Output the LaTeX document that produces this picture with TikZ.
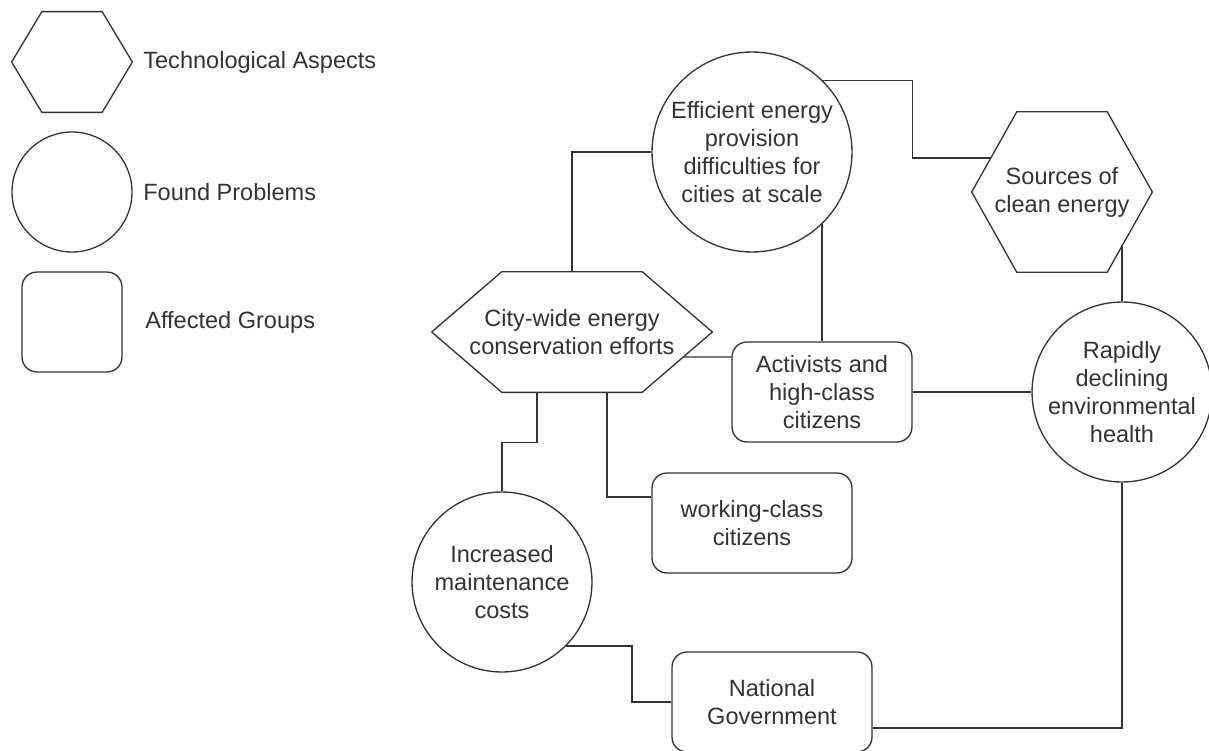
\documentclass[tikz,border=0pt]{standalone}
\usepackage{fontspec}
\setmainfont{Liberation Sans}
\usetikzlibrary{calc}
\definecolor{inkgray}{RGB}{51,51,51}
\tikzset{
  every node/.style={font=\fontsize{13.4pt}{16pt}\selectfont, text=inkgray, align=center},
  probcirc/.style={circle, draw=inkgray, line width=0.75pt, inner sep=-6pt, minimum size=#1},
  groupbox/.style={rectangle, rounded corners=0.3cm, draw=inkgray, line width=0.75pt, inner sep=0pt, minimum width=#1, minimum height=2cm},
  techhex/.style 2 args={inner sep=0pt, minimum width=#1, minimum height=#2},
  hexline/.style={draw=inkgray, line width=0.75pt, line join=miter},
  link/.style={draw=inkgray, line width=0.75pt},
  legendtext/.style={anchor=west, inner sep=0pt}
}
\begin{document}
\begin{tikzpicture}[x=0.02cm, y=-0.02cm]
 \useasboundingbox (0,0) rectangle (1209,750);
 % legend
 \node[techhex={2.4cm}{2cm}] (legtech) at (72,62) {};
 \node[probcirc=2.4cm] (legprob) at (72,192) {};
 \node[groupbox=2cm] (leggroup) at (72,322) {};
 \node[legendtext] (legtechtxt) at (143,62) {Technological Aspects};
 \node[legendtext] (legprobtxt) at (143,192) {Found Problems};
 \node[legendtext] (leggrouptxt) at (145,322) {Affected Groups};
 % diagram
 \node[probcirc=4cm] (eff) at (752,152) {Efficient energy\\provision\\difficulties for\\cities at scale};
 \node[techhex={3.6cm}{3.2cm}] (clean) at (1062,192) {Sources of\\clean energy};
 \node[techhex={5.6cm}{2.4cm}] (city) at (572,332) {City-wide energy\\conservation efforts};
 \node[groupbox=3.6cm] (act) at (822,392) {Activists and\\high-class\\citizens};
 \node[probcirc=3.6cm] (rapid) at (1122,392) {Rapidly\\declining\\environmental\\health};
 \node[groupbox=4cm] (work) at (752,523) {working-class\\citizens};
 \node[probcirc=3.6cm] (inc) at (502,582) {Increased\\maintenance\\costs};
 \node[groupbox=4cm] (gov) at (772,702) {National\\Government};
 \foreach \h in {legtech,city,clean}
  \draw[hexline] (\h.west) -- ($(\h.north west)!.25!(\h.north east)$) -- ($(\h.north west)!.75!(\h.north east)$) -- (\h.east) -- ($(\h.south west)!.75!(\h.south east)$) -- ($(\h.south west)!.25!(\h.south east)$) -- cycle;
 \coordinate (cityout) at (683,357);
 \coordinate (cleanin) at (991,158);
 \coordinate (cleanout) at (1122,245);
 % connectors
 \draw[link] (eff.west) -| (city.north);
 \draw[link] (eff.45) -- ++(89,0) |- (cleanin);
 \draw[link] (cleanout) -- (rapid.north);
 \draw[link] (act.north |- eff.-45) -- (act.north);
 \draw[link] (cityout) -- ([yshift=0.7cm]act.west);
 \draw[link] (act.east) -- (rapid.west);
 \draw[link] ([xshift=-0.7cm]city.south) -- ++(0,50) -| (inc.north);
 \draw[link] ([xshift=0.7cm]city.south) |- ([yshift=0.52cm]work.west);
 \draw[link] (inc.-45) -- ++(66,0) |- (gov.west);
 \draw[link] (rapid.south) |- ([yshift=-0.52cm]gov.east);
\end{tikzpicture}
\end{document}
